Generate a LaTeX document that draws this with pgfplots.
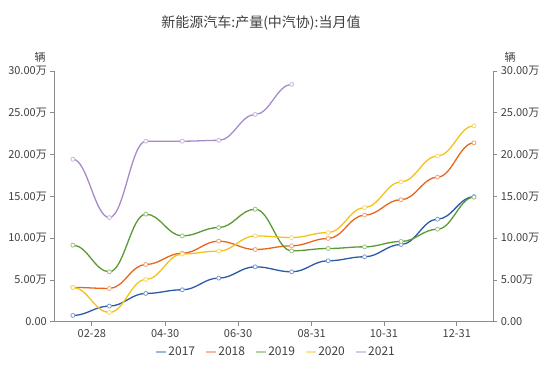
\documentclass[border=0pt]{standalone}
\usepackage{fontspec}
\setmainfont{Noto Sans CJK SC}
\usepackage{pgfplots}
\pgfplotsset{compat=1.18}
\makeatletter
% Bezier segments with horizontal tangents at every data point
\def\pgfplothandlerhsmooth{%
  \def\pgf@plotstreamstart{%
    \global\let\pgf@plotstreampoint=\hs@first
    \global\let\pgf@plotstreamspecial=\pgfutil@gobble
    \global\let\pgf@plotstreamend=\relax}%
}
\def\hs@first#1{%
  \pgf@plot@first@action{#1}%
  \pgf@process{#1}%
  \xdef\hs@lx{\the\pgf@x}\xdef\hs@ly{\the\pgf@y}%
  \global\let\pgf@plotstreampoint=\hs@next}
\def\hs@next#1{%
  \pgf@process{#1}%
  \edef\hs@nx{\the\pgf@x}\edef\hs@ny{\the\pgf@y}%
  \pgf@xa=\pgf@x \advance\pgf@xa by -\hs@lx\relax
  \pgf@xa=\hs@k\pgf@xa
  \pgf@xb=\hs@lx\relax \advance\pgf@xb by \pgf@xa
  \pgf@xc=\hs@nx\relax \advance\pgf@xc by -\pgf@xa
  \edef\hs@ca{\the\pgf@xb}\edef\hs@cb{\the\pgf@xc}%
  \pgfpathcurveto{\pgfqpoint{\hs@ca}{\hs@ly}}{\pgfqpoint{\hs@cb}{\hs@ny}}{\pgfqpoint{\hs@nx}{\hs@ny}}%
  \xdef\hs@lx{\hs@nx}\xdef\hs@ly{\hs@ny}%
}
\def\hs@k{0.4}
\tikzset{hsmooth/.code={\let\tikz@plot@handler=\pgfplothandlerhsmooth}}
\makeatother
\definecolor{c17}{HTML}{2B5AA8}
\definecolor{c18}{HTML}{E8651C}
\definecolor{c19}{HTML}{5A9A33}
\definecolor{c20}{HTML}{F2C318}
\definecolor{c21}{HTML}{A789CC}
\definecolor{axg}{HTML}{8C8C8C}
\definecolor{txt}{HTML}{404040}
\begin{document}
\begin{tikzpicture}[x=1pt,y=1pt]
\path[use as bounding box] (0,0) rectangle (550,373);
\pgfplotsset{
  base/.style={
    at={(54.3pt,51.3pt)}, anchor=south west, scale only axis,
    width=439pt, height=250.7pt,
    xmin=0.49, xmax=12.53, ymin=0, ymax=30,
    axis line style={axg, line width=1pt},
    tick style={axg, line width=0.8pt},
    tick align=outside, major tick length=4pt,
    tick label style={font=\fontsize{11}{13}\selectfont, text=txt},
    ytick={0,5,10,15,20,25,30},
    yticklabels={0.00,5.00万,10.00万,15.00万,20.00万,25.00万,30.00万},
  }
}
\begin{axis}[base,
  axis x line*=bottom, axis y line*=left,
  xtick={1.52,3.53,5.53,7.55,9.53,11.53},
  xticklabels={02-28,04-30,06-30,08-31,10-31,12-31},
  legend columns=5,
  legend style={draw=none, fill=none, at={(0.505,-0.121)}, anchor=center,
    font=\fontsize{12}{14}\selectfont, text=txt,
    /tikz/every even column/.append style={column sep=8pt}},
  legend image code/.code={\draw[#1, line width=1.3pt] (0pt,0pt) -- (10pt,0pt);},
  every axis plot/.append style={hsmooth, line width=1.3pt,
    mark=*, mark size=2pt},
]
\addplot[c17, mark options={fill=white, draw=c17!60!white, line width=0.8pt}, forget plot] coordinates {
(1,0.75)(2,1.87)(3,3.38)(4,3.82)(5,5.22)(6,6.57)(7,5.97)(8,7.29)(9,7.77)(10,9.24)(11,12.27)(12,14.97)};
\addplot[c18, mark options={fill=white, draw=c18!60!white, line width=0.8pt}, forget plot] coordinates {
(1,4.1)(2,3.98)(3,6.85)(4,8.2)(5,9.64)(6,8.64)(7,9.08)(8,9.96)(9,12.75)(10,14.6)(11,17.3)(12,21.4)};
\addplot[c19, mark options={fill=white, draw=c19!60!white, line width=0.8pt}, forget plot] coordinates {
(1,9.16)(2,5.97)(3,12.87)(4,10.27)(5,11.27)(6,13.46)(7,8.48)(8,8.76)(9,8.96)(10,9.6)(11,11.07)(12,14.9)};
\addplot[c20, mark options={fill=white, draw=c20!60!white, line width=0.8pt}, forget plot] coordinates {
(1,4.1)(2,1.1)(3,5.05)(4,8.1)(5,8.45)(6,10.27)(7,10.07)(8,10.67)(9,13.66)(10,16.73)(11,19.83)(12,23.45)};
\addplot[c21, mark options={fill=white, draw=c21!60!white, line width=0.8pt}, forget plot] coordinates {
(1,19.44)(2,12.46)(3,21.6)(4,21.6)(5,21.7)(6,24.8)(7,28.4)};
\addlegendimage{c17!45!white}\addlegendentry{2017}
\addlegendimage{c18!45!white}\addlegendentry{2018}
\addlegendimage{c19!45!white}\addlegendentry{2019}
\addlegendimage{c20!45!white}\addlegendentry{2020}
\addlegendimage{c21!45!white}\addlegendentry{2021}
\end{axis}
\begin{axis}[base, axis x line=none, axis y line*=right]
\end{axis}
\node[font=\fontsize{14}{16}\selectfont, text=txt] at (261,350) {新能源汽车:产量(中汽协):当月值};
\node[font=\fontsize{11}{13}\selectfont, text=txt] at (40,316) {辆};
\node[font=\fontsize{11}{13}\selectfont, text=txt] at (510,316) {辆};
\end{tikzpicture}
\end{document}
